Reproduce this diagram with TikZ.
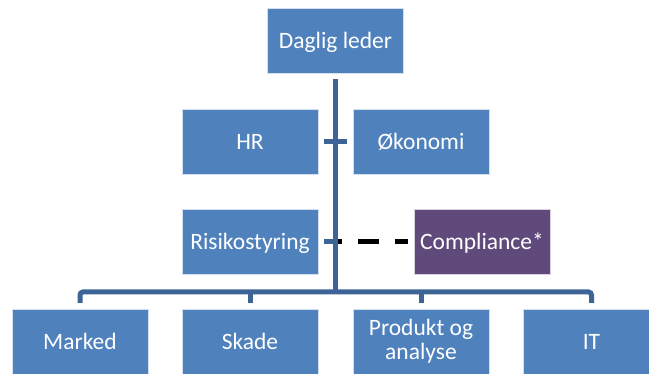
\documentclass[tikz,border=0pt]{standalone}
\usepackage{fontspec}
\setmainfont{Carlito}
\definecolor{boxblue}{HTML}{4F81BD}
\definecolor{compurple}{HTML}{604A7B}
\definecolor{linkblue}{HTML}{3C6496}
\begin{document}
\begin{tikzpicture}[x=1pt,y=-1pt,
  unit/.style={draw=white!75!boxblue, line width=0.6pt, fill=boxblue, text=white,
    minimum width=136pt, minimum height=65pt, inner sep=0pt, outer sep=6pt,
    font=\fontsize{23.5}{24.3}\selectfont, text height=15.1pt, text depth=0pt},
  staff/.style={unit, fill=compurple, draw=white!75!compurple},
  conn/.style={draw=linkblue, line width=5pt},
  dashlink/.style={draw=black, line width=4.6pt, dash pattern=on 21pt off 16pt, dash phase=14.5pt}]
\clip (0,0) rectangle (649,374);
% top
\node[unit] (dl) at (335.5,41) {Daglig leder};
% staff units
\node[unit] (hr) at (250,141.5) {HR};
\node[unit] (oek) at (421,141.5) {Økonomi};
\node[unit] (risk) at (250,241.5) {Risikostyring};
\node[staff] (comp) at (482,241.5) {Compliance*};
% lines of business
\node[unit] (marked) at (80,341.5) {Marked};
\node[unit] (skade) at (250,341.5) {Skade};
\node[unit, text height=, text depth=, align=center] (prod) at (421,341.5) {Produkt og\\analyse};
\node[unit] (it) at (591.5,341.5) {IT};

\coordinate (bus) at (335.5,292);
\coordinate (rmid) at (risk.east -| bus);

\draw[dashlink] (rmid) -- (comp.west);
\draw[conn] (dl.south) -- (bus);
\draw[conn] (hr.east) -- (oek.west);
\draw[conn] (risk.east) -- (rmid);
\draw[conn, rounded corners=3pt] (marked.north) |- (bus) -| (it.north);
\draw[conn] (skade.north) -- (skade.north |- bus);
\draw[conn] (prod.north) -- (prod.north |- bus);
\end{tikzpicture}
\end{document}
